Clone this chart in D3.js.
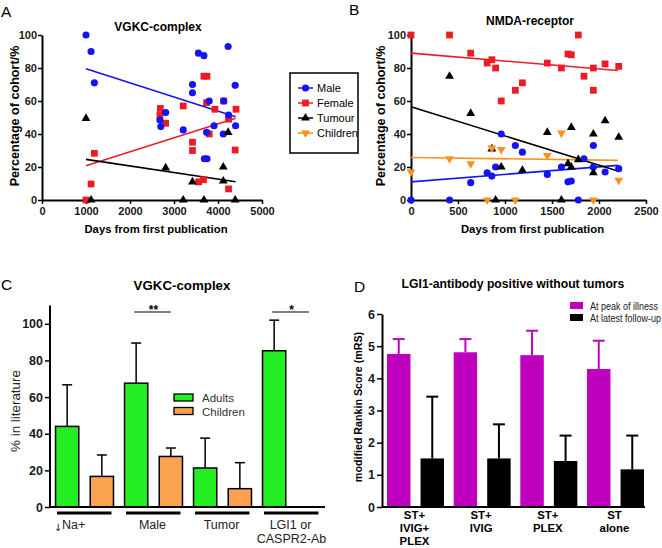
<!DOCTYPE html>
<html>
<head>
<meta charset="utf-8">
<script src="https://cdn.jsdelivr.net/npm/d3@7"></script>
<style>
  body { margin: 0; background: #fff; }
  svg { display: block; }
</style>
</head>
<body>
<svg id="fig" width="662" height="548"></svg>
<script>
// ---------- data ----------
// panel A: VGKC-complex, [days, percent]
const maleA = [[1000,100],[1115,90],[1190,71],[2680,48.5],[2700,44.5],[2810,53],[3210,42.5],[3420,70],[3420,65],
  [3555,89],[3680,87.5],[3800,60],[3740,41],[3690,25],[3750,25],[3910,45],[4130,60],[4120,40],[4230,93],[4240,51.5],[4390,69.5],[4400,45]];
const femaleA = [[1000,0],[1115,9.7],[1190,28.3],[2680,51.5],[2690,55.5],[2810,46.5],[3210,57],[3420,35],[3420,30],[3560,11],
  [3670,12.3],[3680,75],[3750,75],[3740,59],[3800,40],[3930,55],[4130,60],[4240,49],[4240,6.7],[4390,30.3],[4410,55]];
const tumourA = [[1000,49.5],[1115,0],[2810,19.5],[3210,0],[3420,11],[3680,0],[4120,20],[4120,11.5],[4230,41],[4390,0]];
const maleFitA = [[1000,79.5],[4400,50.5]];
const femaleFitA = [[1000,20.8],[4400,49.5]];
const tumourFitA = [[1000,24.6],[4400,11.1]];

// panel B: NMDA-receptor, [days, percent]
const maleB = [[0,0],[410,0],[635,10.5],[810,16.5],[860,14.5],[900,20],[960,40],[1110,33],[1185,29],[1450,15.5],[1600,20],
  [1670,11],[1705,11.5],[1780,0],[1840,25],[1940,33],[1940,20],[2065,17],[2210,19]];
const femaleB = [[0,100],[410,100],[635,89],[810,83],[860,85],[900,80],[960,60],[1110,66.5],[1185,71],[1450,83],[1600,80],
  [1670,88.5],[1705,88],[1780,100],[1840,75],[1940,80],[1940,66.5],[2065,82.5],[2210,81]];
const tumourB = [[410,75],[635,52.5],[860,31],[900,0],[960,20],[1185,18],[1450,41],[1600,0],[1670,22],[1705,20],[1705,44],
  [1780,24.5],[1940,40],[1940,16.5],[2065,48],[2210,38]];
const childrenB = [[0,17],[410,25],[635,22],[810,0],[860,31.5],[960,30.5],[1110,0],[1450,27],[1600,40.5],[1940,0],[2210,12]];
const maleFitB = [[0,11],[2200,21]];
const femaleFitB = [[0,89],[2200,78.5]];
const tumourFitB = [[0,56.5],[2200,17.6]];
const childrenFitB = [[0,25.8],[2200,24]];

const legendLabels = ["Male", "Female", "Tumour", "Children"];

// panel C: VGKC-complex, % in literature
const cGroups = ["Na", "Male", "Tumor", "LGI1"];
const cLabels = [["Na+"], ["Male"], ["Tumor"], ["LGI1 or", "CASPR2-Ab"]];
const adults = [44, 67.6, 21.3, 85.3];
const adultsErr = [66.7, 89.5, 37.6, 102];
const children = [16.7, 27.6, 10, 0];
const childrenErr = [28.4, 32.2, 24.2, null];
const cStars = [null, "**", null, "*"];

// panel D: LGI1-antibody positive without tumors, mRS
const dGroups = ["g1", "g2", "g3", "g4"];
const dLabels = [["ST+", "IVIG+", "PLEX"], ["ST+", "IVIG"], ["ST+", "PLEX"], ["ST", "alone"]];
const peak = [4.76, 4.81, 4.72, 4.29];
const peakErr = [5.22, 5.22, 5.48, 5.17];
const latest = [1.51, 1.51, 1.43, 1.17];
const latestErr = [3.43, 2.57, 2.22, 2.22];

// ---------- drawing ----------
const FONT = '"Liberation Sans", Arial, Helvetica, sans-serif';
const svg = d3.select("#fig").attr("font-family", FONT);

const col = { Male: "#1414f0", Female: "#ec1c24", Tumour: "#000000", Children: "#f7931e" };
const shape = { Male: d3.symbolCircle, Female: d3.symbolSquare, Tumour: d3.symbolTriangle, Children: d3.symbolTriangle };
const symSize = { Male: 40, Female: 46, Tumour: 34, Children: 34 };

function styleAxis(a, fs) {
  a.attr("font-family", FONT).attr("font-size", fs).attr("font-weight", "bold");
  a.select(".domain").attr("stroke-width", 2);
  a.selectAll(".tick line").attr("stroke-width", 1.5);
  a.selectAll(".tick text").attr("fill", "#1a1a1a");
}

function marker(sel, name, x, y) {
  const flip = name === "Children" ? " rotate(180)" : "";
  sel.append("path")
    .attr("d", d3.symbol(shape[name], symSize[name])())
    .attr("fill", col[name])
    .attr("transform", `translate(${x},${y})${flip}`);
}

function scatterPanel(o) {
  const x = d3.scaleLinear().domain(o.xDomain).range(o.xRange);
  const y = d3.scaleLinear().domain([0, 100]).range([200, 35]);
  const g = svg.append("g");

  const xa = g.append("g").attr("transform", "translate(0,200)")
    .call(d3.axisBottom(x).tickValues(o.xTicks).tickSize(4).tickSizeOuter(0).tickPadding(3).tickFormat(d3.format("d")));
  styleAxis(xa, 11);
  const ya = g.append("g").attr("transform", `translate(${o.xRange[0]},0)`)
    .call(d3.axisLeft(y).tickValues([0, 20, 40, 60, 80, 100]).tickSize(4).tickSizeOuter(0).tickPadding(1));
  styleAxis(ya, 11);

  o.series.forEach(s => {
    g.append("line")
      .attr("x1", x(s.fit[0][0])).attr("y1", y(s.fit[0][1]))
      .attr("x2", x(s.fit[1][0])).attr("y2", y(s.fit[1][1]))
      .attr("stroke", col[s.name]).attr("stroke-width", 1.6);
  });
  o.series.forEach(s => {
    const flip = s.name === "Children" ? " rotate(180)" : "";
    g.append("g").selectAll("path").data(s.pts).join("path")
      .attr("d", d3.symbol(shape[s.name], symSize[s.name])())
      .attr("fill", col[s.name])
      .attr("transform", d => `translate(${x(d[0])},${y(d[1])})${flip}`);
  });

  g.append("text").attr("x", o.titleX).attr("y", o.titleY).attr("text-anchor", "middle")
    .attr("font-size", 12).attr("font-weight", "bold").text(o.title);
  g.append("text").attr("x", (o.xRange[0] + o.xRange[1]) / 2 + 4).attr("y", 233).attr("text-anchor", "middle")
    .attr("font-size", 11.3).attr("font-weight", "bold").text("Days from first publication");
  g.append("text").attr("transform", `translate(${o.yTitleX},116) rotate(-90)`).attr("text-anchor", "middle")
    .attr("font-size", 12.6).attr("font-weight", "bold").text("Percentage of cohort/%");
}

scatterPanel({
  xDomain: [0, 5000], xRange: [42, 262], xTicks: [0, 1000, 2000, 3000, 4000, 5000],
  title: "VGKC-complex", titleX: 158, titleY: 31, yTitleX: 19,
  series: [
    { name: "Female", pts: femaleA, fit: femaleFitA },
    { name: "Male", pts: maleA, fit: maleFitA },
    { name: "Tumour", pts: tumourA, fit: tumourFitA }
  ]
});
scatterPanel({
  xDomain: [0, 2500], xRange: [411, 646], xTicks: [0, 500, 1000, 1500, 2000, 2500],
  title: "NMDA-receptor", titleX: 530, titleY: 25, yTitleX: 385,
  series: [
    { name: "Female", pts: femaleB, fit: femaleFitB },
    { name: "Male", pts: maleB, fit: maleFitB },
    { name: "Tumour", pts: tumourB, fit: tumourFitB },
    { name: "Children", pts: childrenB, fit: childrenFitB }
  ]
});

// legend shared by A and B
const lg = svg.append("g");
lg.append("rect").attr("x", 290).attr("y", 73).attr("width", 68).attr("height", 80)
  .attr("fill", "#fff").attr("stroke", "#000").attr("stroke-width", 1.5);
legendLabels.forEach((name, i) => {
  const yy = 88 + i * 15;
  lg.append("line").attr("x1", 298).attr("x2", 313).attr("y1", yy).attr("y2", yy)
    .attr("stroke", col[name]).attr("stroke-width", 1.5);
  marker(lg, name, 305.5, yy);
  lg.append("text").attr("x", 317).attr("y", yy + 4).attr("font-size", 11).text(name);
});

// panel letters
[["A", 1, 17], ["B", 349, 15], ["C", 1, 290], ["D", 354, 292]].forEach(d => {
  svg.append("text").attr("x", d[1]).attr("y", d[2]).attr("font-size", 15.5).text(d[0]);
});

// ---------- panel C ----------
(function () {
  const g = svg.append("g");
  const y = d3.scaleLinear().domain([0, 110]).range([507, 305.5]);
  const x = d3.scaleBand().domain(cGroups).range([50, 326]).paddingInner(0.16).paddingOuter(0.08);
  const xi = d3.scaleBand().domain(["Adults", "Children"]).range([0, x.bandwidth()]).paddingInner(0.33);
  const fills = { Adults: "#22ee22", Children: "#fba24f" };

  const ya = g.append("g").attr("transform", "translate(50,0)")
    .call(d3.axisLeft(y).tickValues([0, 20, 40, 60, 80, 100]).tickSize(5).tickSizeOuter(0).tickPadding(2));
  styleAxis(ya, 12.5);
  ya.select(".domain").attr("d", `M0,${y(110)}V${y(0)}`);

  const bars = [];
  cGroups.forEach((gName, i) => {
    bars.push({ g: gName, k: "Adults", v: adults[i], e: adultsErr[i] });
    bars.push({ g: gName, k: "Children", v: children[i], e: childrenErr[i] });
  });
  const shown = bars.filter(d => d.v > 0);
  const cx = d => x(d.g) + xi(d.k) + xi.bandwidth() / 2;

  g.append("g").selectAll("line").data(shown.filter(d => d.e != null)).join("line")
    .attr("x1", cx).attr("x2", cx).attr("y1", d => y(d.v)).attr("y2", d => y(d.e))
    .attr("stroke", "#000").attr("stroke-width", 1.5);
  g.append("g").selectAll("line").data(shown.filter(d => d.e != null)).join("line")
    .attr("x1", d => cx(d) - 5).attr("x2", d => cx(d) + 5).attr("y1", d => y(d.e)).attr("y2", d => y(d.e))
    .attr("stroke", "#000").attr("stroke-width", 1.5);
  g.append("g").selectAll("rect").data(shown).join("rect")
    .attr("x", d => x(d.g) + xi(d.k)).attr("width", xi.bandwidth())
    .attr("y", d => y(d.v)).attr("height", d => y(0) - y(d.v))
    .attr("fill", d => fills[d.k]).attr("stroke", "#000").attr("stroke-width", 1.5);

  // x axis line
  g.append("line").attr("x1", 50).attr("x2", 325).attr("y1", y(0)).attr("y2", y(0))
    .attr("stroke", "#000").attr("stroke-width", 2);

  // group underlines and labels
  cGroups.forEach((gName, i) => {
    const x0 = x(gName), w = x.bandwidth();
    g.append("line").attr("x1", x0 + 1.5).attr("x2", x0 + w - 2).attr("y1", 513).attr("y2", 513)
      .attr("stroke", "#000").attr("stroke-width", 3);
    const t = g.append("text").attr("text-anchor", "middle").attr("font-size", 12.5).attr("fill", "#222");
    if (i === 0) {
      t.attr("x", x0 + 14).attr("y", 529);
      t.append("tspan").attr("font-family", "DejaVu Sans").attr("font-size", 10).attr("dy", 2).text("\u2193");
      t.append("tspan").attr("dy", -2).text(cLabels[i][0]);
    } else {
      cLabels[i].forEach((line, j) => {
        t.append("tspan").attr("x", x0 + w / 2 + (j ? 0 : -1)).attr("y", 529 + j * 14).text(line);
      });
    }
    if (cStars[i]) {
      const a = x0 + xi("Adults") + xi.bandwidth() / 2;
      const b = x0 + xi("Children") + xi.bandwidth() / 2;
      g.append("line").attr("x1", a - 2).attr("x2", b).attr("y1", 312).attr("y2", 312)
        .attr("stroke", "#000").attr("stroke-width", 1);
      g.append("text").attr("x", (a + b) / 2).attr("y", 314).attr("text-anchor", "middle")
        .attr("font-size", 12).attr("font-weight", "bold").text(cStars[i]);
    }
  });

  g.append("text").attr("x", 182).attr("y", 290).attr("text-anchor", "middle")
    .attr("font-size", 13.3).attr("font-weight", "bold").text("VGKC-complex");
  g.append("text").attr("transform", "translate(20,411) rotate(-90)").attr("text-anchor", "middle")
    .attr("font-size", 13.4).attr("fill", "#222").text("% in literature");

  ["Adults", "Children"].forEach((k, i) => {
    g.append("rect").attr("x", 174).attr("y", 394 + i * 13.5).attr("width", 19).attr("height", 7)
      .attr("fill", fills[k]).attr("stroke", "#000").attr("stroke-width", 1.3);
    g.append("text").attr("x", 202).attr("y", 402 + i * 13.5).attr("font-size", 11.5).attr("fill", "#333").text(k);
  });
})();

// ---------- panel D ----------
(function () {
  const g = svg.append("g");
  const y = d3.scaleLinear().domain([0, 6]).range([507, 314]);
  const x = d3.scaleBand().domain(dGroups).range([382, 649]).paddingInner(0.145).paddingOuter(0.075);
  const xi = d3.scaleBand().domain(["peak", "latest"]).range([0, x.bandwidth()]).paddingInner(0.3);
  const fills = { peak: "#bf00bf", latest: "#000000" };

  const ya = g.append("g").attr("transform", "translate(382,0)")
    .call(d3.axisLeft(y).ticks(6).tickSize(5).tickSizeOuter(0).tickPadding(2));
  styleAxis(ya, 12.5);

  const bars = [];
  dGroups.forEach((gName, i) => {
    bars.push({ g: gName, k: "peak", v: peak[i], e: peakErr[i] });
    bars.push({ g: gName, k: "latest", v: latest[i], e: latestErr[i] });
  });
  const cx = d => x(d.g) + xi(d.k) + xi.bandwidth() / 2;

  g.append("g").selectAll("line").data(bars).join("line")
    .attr("x1", cx).attr("x2", cx).attr("y1", d => y(d.v)).attr("y2", d => y(d.e))
    .attr("stroke", d => fills[d.k]).attr("stroke-width", 2);
  g.append("g").selectAll("line").data(bars).join("line")
    .attr("x1", d => cx(d) - 6).attr("x2", d => cx(d) + 6).attr("y1", d => y(d.e)).attr("y2", d => y(d.e))
    .attr("stroke", d => fills[d.k]).attr("stroke-width", 2);
  g.append("g").selectAll("rect").data(bars).join("rect")
    .attr("x", d => x(d.g) + xi(d.k)).attr("width", xi.bandwidth())
    .attr("y", d => y(d.v)).attr("height", d => y(0) - y(d.v))
    .attr("fill", d => fills[d.k]);

  g.append("line").attr("x1", 382).attr("x2", 645).attr("y1", y(0)).attr("y2", y(0))
    .attr("stroke", "#000").attr("stroke-width", 2);

  dGroups.forEach((gName, i) => {
    const cxg = x(gName) + xi("peak") + xi.bandwidth() + 4;
    const t = g.append("text").attr("text-anchor", "middle").attr("font-size", 11.4).attr("font-weight", "bold");
    dLabels[i].forEach((line, j) => {
      t.append("tspan").attr("x", cxg).attr("y", 519 + j * 12.8).text(line);
    });
  });

  g.append("text").attr("x", 513).attr("y", 288).attr("text-anchor", "middle")
    .attr("font-size", 12.2).attr("font-weight", "bold").text("LGI1-antibody positive without tumors");
  g.append("text").attr("transform", "translate(362,407) rotate(-90)").attr("text-anchor", "middle")
    .attr("font-size", 10.7).attr("font-weight", "bold").text("modified Rankin Score (mRS)");

  [["peak", "At peak of illness"], ["latest", "At latest follow-up"]].forEach((d, i) => {
    g.append("rect").attr("x", 570).attr("y", 302 + i * 12).attr("width", 13).attr("height", 7).attr("fill", fills[d[0]]);
    g.append("text").attr("transform", `translate(590,${309.5 + i * 12}) scale(0.82,1)`)
      .attr("font-size", 11).attr("fill", "#222").text(d[1]);
  });
})();
</script>
</body>
</html>
